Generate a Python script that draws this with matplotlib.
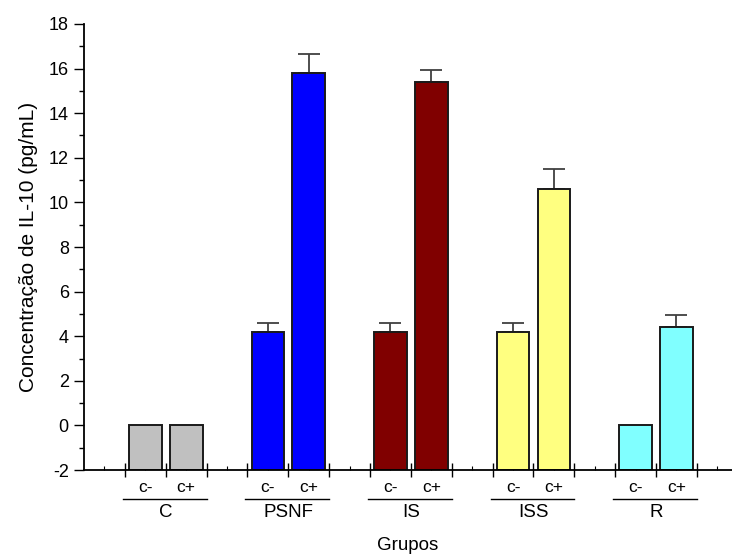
#!/usr/bin/env python3
"""
IL-10 por grupo (c- / c+)
"""

import matplotlib
matplotlib.use('Agg')
import matplotlib.pyplot as plt
from matplotlib.ticker import MultipleLocator

plt.rcParams['font.family'] = ['Liberation Sans', 'DejaVu Sans']
plt.rcParams['axes.unicode_minus'] = False

# dados
grupos = ['C', 'PSNF', 'IS', 'ISS', 'R']
condicoes = ['c-', 'c+']
valores_neg = [0.0, 4.2, 4.2, 4.2, 0.0]
valores_pos = [0.0, 15.8, 15.4, 10.6, 4.4]
erros_neg = [0.0, 0.4, 0.4, 0.4, 0.0]
erros_pos = [0.0, 0.85, 0.55, 0.9, 0.55]
cores = ['#C0C0C0', '#0000FF', '#800000', '#FFFF80', '#80FFFF']

base = -2.0

fig = plt.figure(figsize=(7.32, 5.57), dpi=100)
ax = fig.add_axes([0.1148, 0.156, 0.8852, 0.801])
trans = ax.get_xaxis_transform()

for i, g in enumerate(grupos):
    x0 = 1 + 3 * i  # primeiro tick do grupo
    for j, (vals, errs) in enumerate([(valores_neg, erros_neg), (valores_pos, erros_pos)]):
        xc = x0 + 0.5 + j
        v = vals[i]
        ax.bar(xc, v - base, bottom=base, width=0.8, color=cores[i],
               edgecolor='#1a1a1a', linewidth=1.4, zorder=2)
        if errs[i] > 0:
            ax.errorbar(xc, v, yerr=[[0], [errs[i]]], fmt='none',
                        ecolor='#404040', elinewidth=1.3, capsize=8,
                        capthick=1.3, zorder=1)
        ax.text(xc, -0.040, condicoes[j], transform=trans,
                ha='center', va='center', fontsize=12.5)
    # linha sob c- c+
    ax.plot([x0 - 0.05, x0 + 2.0], [-0.065, -0.065], color='black', lw=1.0,
            transform=trans, clip_on=False)
    ax.text(x0 + 1.0, -0.094, g, transform=trans,
            ha='center', va='center', fontsize=13.5)

ax.set_xlim(0, 15.86)
ax.set_ylim(-2, 18)
ax.spines['top'].set_visible(False)
ax.spines['right'].set_visible(False)
ax.spines['left'].set_linewidth(1.3)
ax.spines['bottom'].set_linewidth(1.3)

ax.yaxis.set_major_locator(MultipleLocator(2))
ax.yaxis.set_minor_locator(MultipleLocator(1))
ax.tick_params(axis='y', which='major', direction='out', length=7, width=1.0,
               labelsize=13, pad=4)
ax.tick_params(axis='y', which='minor', direction='out', length=3.5, width=1.0)

ax.set_xticks(range(1, 16))
ax.set_xticks([k + 0.5 for k in range(0, 16)], minor=True)
ax.tick_params(axis='x', which='major', direction='inout', length=10, width=1.0,
               labelbottom=False)
ax.tick_params(axis='x', which='minor', direction='in', length=3, width=0.8)

ax.set_ylabel('Concentração de IL-10 (pg/mL)', fontsize=15, labelpad=8)
ax.text(0.5 * 15.86, -0.168, 'Grupos', transform=trans,
        ha='center', va='center', fontsize=13.5)

fig.savefig('out.png', dpi=100)
